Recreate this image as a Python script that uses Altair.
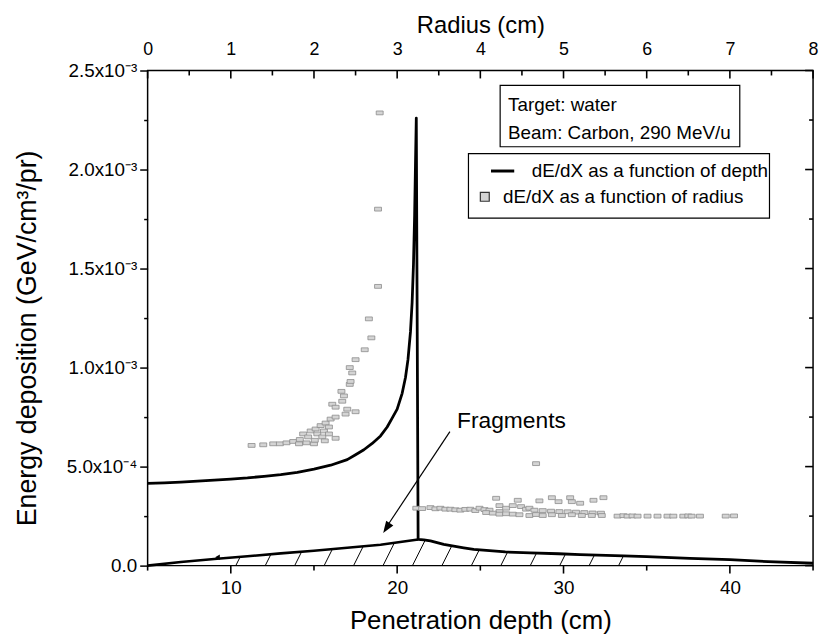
import altair as alt
import numpy as np
import pandas as pd

# ---------------- data (energy deposition in units of 1e-3 GeV/cm^3/pr) ----------------
depth_cm = [5, 6, 7, 8, 9, 10, 11, 12, 13, 14, 15, 16, 17, 17.5, 18, 18.5, 19, 19.4,
            19.7, 20.0, 20.3, 20.5, 20.65, 20.8, 20.9, 20.98, 21.05, 21.1, 21.15, 21.26,
            21.6, 22.0, 22.8, 24.0, 24.6, 26.5, 28.0, 29.7, 31.0, 33.6, 35.0, 37.6, 40.0,
            42.3, 45.0]
depth_dose = [0.415, 0.418, 0.422, 0.427, 0.432, 0.437, 0.443, 0.451, 0.46, 0.471, 0.487,
              0.507, 0.535, 0.56, 0.585, 0.617, 0.655, 0.70, 0.745, 0.79, 0.87, 0.95, 1.04,
              1.18, 1.33, 1.52, 1.77, 2.02, 2.26, 0.132,
              0.13, 0.125, 0.107, 0.09, 0.082, 0.069, 0.064, 0.06, 0.056, 0.049, 0.045,
              0.037, 0.03, 0.02, 0.012]

frag_depth_cm = [5, 7, 9, 11, 13, 15, 17, 19, 21.26]
frag_dose = [0.0, 0.018, 0.033, 0.047, 0.062, 0.075, 0.09, 0.105, 0.132]

radius_cm = [1.25, 1.39, 1.51, 1.59, 1.67, 1.75, 1.82, 1.83, 1.87, 1.91, 1.93, 1.96, 2.00,
             2.01, 2.02, 2.04, 2.08, 2.10, 2.12, 2.13, 2.14, 2.18, 2.18, 2.20, 2.22, 2.26,
             2.26, 2.26, 2.33, 2.34, 2.36, 2.38, 2.40, 2.43, 2.44, 2.46, 2.50, 2.43, 2.50,
             2.61, 2.69, 2.66, 2.77, 2.77, 2.79,
             3.23, 3.30, 3.40, 3.46, 3.52, 3.58, 3.64, 3.70, 3.76, 3.82, 3.88, 3.94, 3.99,
             4.05, 4.11, 4.19, 4.23, 4.23, 4.31, 4.39, 4.45, 4.49, 4.55, 4.59, 4.67, 4.71,
             4.86, 4.94, 5.08, 5.10, 5.20, 5.36, 5.48,
             4.65, 4.75, 4.85, 4.95, 5.05, 5.15, 5.25, 5.35, 5.45,
             4.07, 4.15, 4.23, 4.31, 4.39, 4.47, 4.59, 4.67, 4.75, 4.86, 4.98, 5.10, 5.22,
             5.34, 5.46, 5.65, 5.72, 5.77, 5.83, 5.89, 6.01, 6.13, 6.25, 6.32, 6.44, 6.50,
             6.54, 6.64, 6.95, 7.05]
radius_dose = [0.607, 0.610, 0.615, 0.615, 0.620, 0.627, 0.615, 0.637, 0.665, 0.620, 0.650,
               0.680, 0.615, 0.633, 0.690, 0.665, 0.707, 0.650, 0.680, 0.630, 0.720, 0.665,
               0.700, 0.740, 0.815, 0.750, 0.800, 0.643, 0.880, 0.830, 0.857, 0.765, 0.790,
               0.915, 0.930, 0.973, 0.777, 1.00, 1.04, 1.09, 1.15, 1.246, 1.41, 1.80, 2.286,
               0.290, 0.288, 0.293, 0.287, 0.290, 0.285, 0.285, 0.282, 0.280, 0.284, 0.285,
               0.278, 0.290, 0.283, 0.280, 0.340, 0.303, 0.273, 0.290, 0.303, 0.330, 0.298,
               0.285, 0.290, 0.515, 0.327, 0.343, 0.323, 0.343, 0.323, 0.315, 0.330, 0.343,
               0.280, 0.278, 0.275, 0.273, 0.272, 0.270, 0.268, 0.266, 0.265,
               0.268, 0.265, 0.260, 0.262, 0.260, 0.257, 0.253, 0.258, 0.253, 0.257, 0.253,
               0.257, 0.253, 0.253, 0.253, 0.250, 0.252, 0.250, 0.251, 0.250, 0.250, 0.250,
               0.250, 0.250, 0.250, 0.251, 0.250, 0.250, 0.250, 0.251]

depth_labels = [10, 20, 30, 40]
depth_minor = [5, 15, 25, 35, 45]
depth_top_major = [5, 10, 15, 20, 25, 30, 35, 40, 45]      # radius 0..8 cm
depth_top_minor = [7.5, 12.5, 17.5, 22.5, 27.5, 32.5, 37.5, 42.5]
radius_ticks = [0, 1, 2, 3, 4, 5, 6, 7, 8]
y_major = [0, 0.0005, 0.001, 0.0015, 0.002, 0.0025]
y_minor = [0.00025, 0.00075, 0.00125, 0.00175, 0.00225]

SERIES_DEPTH = "dE/dX as a function of depth"
SERIES_RADIUS = "dE/dX as a function of radius"
UNIT = 1e-3
W, H = 672, 500
X_DOM = [5, 45]
Y_DOM = [0, 0.0025]
FONT = "Liberation Sans"
TICK_COLOR = "black"

df_depth = pd.DataFrame({"depth": depth_cm, "dose": [v * UNIT for v in depth_dose]})
df_depth["series"] = SERIES_DEPTH
df_frag = pd.DataFrame({"depth": frag_depth_cm, "dose": [v * UNIT for v in frag_dose]})
df_rad = pd.DataFrame({"radius": radius_cm, "dose": [v * UNIT for v in radius_dose]})
df_rad["series"] = SERIES_RADIUS

px_per_depth = W / (X_DOM[1] - X_DOM[0])
px_per_dose = H / (Y_DOM[1] - Y_DOM[0])

# hatching under the fragment contribution, derived from the fragment envelope
env_d = np.array(frag_depth_cm + [d for d in depth_cm if d > frag_depth_cm[-1]])
env_v = np.array(frag_dose + [v for d, v in zip(depth_cm, depth_dose) if d > frag_depth_cm[-1]])
rows = []
for k in range(14):
    d0 = 10.3 + 1.77 * k
    t = d0
    for _ in range(8):
        h = float(np.interp(t, env_d, env_v)) * UNIT
        t = d0 + (h * px_per_dose / 2.0) / px_per_depth
    rows.append({"x0": d0, "x1": t, "y0": 0.0, "y1": h})
df_hatch = pd.DataFrame(rows)


def xs():
    return alt.Scale(domain=X_DOM, nice=False, zero=False)


def ys():
    return alt.Scale(domain=Y_DOM, nice=False, zero=False)


y_label_expr = ("round(datum.value * 4000) % 2 !== 0 ? '' : datum.value === 0 ? '0.0' : "
                "datum.value < 0.00099 ? format(datum.value * 1e4, '.1f') + 'x10\u207b\u2074' : "
                "format(datum.value * 1e3, '.1f') + 'x10\u207b\u00b3'")

left_axis = alt.Axis(
    orient="left", values=sorted(y_major + y_minor), labelExpr=y_label_expr,
    tickSize={"condition": {"test": "round(datum.value * 4000) % 2 === 0", "value": 8}, "value": 4},
    labelPadding=3, labelOverlap=False, labelFontSize=19,
    title="Energy deposition (GeV/cm\u00b3/pr)", titleFontSize=27, titleAngle=270,
    titleX=-121, titleY=270, titleAlign="center", titleBaseline="middle")

bottom_axis = alt.Axis(
    orient="bottom", values=depth_labels, ticks=False, tickSize=0, labelPadding=13,
    labelOverlap=False, labelFlush=False, labelFontSize=19,
    title="Penetration depth (cm)", titleFontSize=26, titleX=W / 2, titleY=56,
    titleAlign="center", titleBaseline="middle")

top_label_axis = alt.Axis(
    orient="top", values=radius_ticks, ticks=False, tickSize=0, labelPadding=12,
    labelOverlap=False, labelFlush=False, labelFontSize=18, format="d",
    title="Radius (cm)", titleFontSize=24, titleX=W / 2, titleY=-38,
    titleAlign="center", titleBaseline="alphabetic")

legend_line = alt.Legend(title=None, orient="none", legendX=345, legendY=88,
                         symbolType="stroke", symbolSize=550, symbolStrokeWidth=3,
                         symbolStrokeColor="black", labelFontSize=19, labelOffset=16,
                         labelLimit=600, labelColor="black", padding=0)
legend_sq = alt.Legend(title=None, orient="none", legendX=331, legendY=118,
                       symbolType="square", symbolSize=81, symbolStrokeColor="#333333",
                       symbolStrokeWidth=1.2, symbolFillColor="#d4d4d4", labelFontSize=19,
                       labelOffset=9, labelLimit=600, labelColor="black", padding=0)

RECT_SHAPE = "M-1,-0.55H1V0.55H-1Z"
ARROW_SHAPE = "M0,0L-0.36,1L0.36,1Z"


def x_ticks(values, y_at, length_px):
    """Vertical tick segments at depth positions; length given in pixels (positive = up)."""
    dy = length_px / px_per_dose
    df = pd.DataFrame({"v": values, "y0": [y_at] * len(values),
                       "y1": [y_at + dy] * len(values)})
    return alt.Chart(df).mark_rule(strokeWidth=1.6, color=TICK_COLOR).encode(
        x=alt.X("v:Q", scale=xs(), axis=None),
        y=alt.Y("y0:Q", scale=ys(), axis=None), y2="y1:Q")


def y_ticks(values, x_at, length_px):
    """Horizontal tick segments at dose positions; length in pixels (positive = right)."""
    dx = length_px / px_per_depth
    df = pd.DataFrame({"v": values, "x0": [x_at] * len(values),
                       "x1": [x_at + dx] * len(values)})
    return alt.Chart(df).mark_rule(strokeWidth=1.6, color=TICK_COLOR).encode(
        y=alt.Y("v:Q", scale=ys(), axis=None),
        x=alt.X("x0:Q", scale=xs(), axis=None), x2="x1:Q")


line_depth = alt.Chart(df_depth).mark_line(strokeWidth=2.8, strokeJoin="round").encode(
    x=alt.X("depth:Q", scale=xs(), axis=bottom_axis),
    y=alt.Y("dose:Q", scale=ys(), axis=left_axis),
    color=alt.Color("series:N", scale=alt.Scale(domain=[SERIES_DEPTH], range=["black"]),
                    legend=legend_line),
)

line_frag = alt.Chart(df_frag).mark_line(strokeWidth=2.6, color="black").encode(
    x=alt.X("depth:Q", scale=xs(), axis=None),
    y=alt.Y("dose:Q", scale=ys(), axis=None),
)

hatch = alt.Chart(df_hatch).mark_rule(strokeWidth=1, color="black").encode(
    x=alt.X("x0:Q", scale=xs(), axis=None),
    x2="x1:Q",
    y=alt.Y("y0:Q", scale=ys(), axis=None),
    y2="y1:Q",
)

scatter = alt.Chart(df_rad).mark_point(filled=True, shape=RECT_SHAPE, size=49,
                                       stroke="#8c8c8c", strokeWidth=0.8, opacity=1).encode(
    x=alt.X("radius:Q", scale=alt.Scale(domain=[0, 8], nice=False, zero=False),
            axis=top_label_axis),
    y=alt.Y("dose:Q", scale=ys(), axis=None),
    fill=alt.Fill("series:N", scale=alt.Scale(domain=[SERIES_RADIUS], range=["#d4d4d4"]),
                  legend=legend_sq),
)

one = pd.DataFrame({"k": [0]})
legend_box = alt.Chart(one).mark_rect(fillOpacity=0, stroke="black", strokeWidth=1.2).encode(
    x=alt.value(324), x2=alt.value(628), y=alt.value(84), y2=alt.value(149))
info_box = alt.Chart(one).mark_rect(fillOpacity=0, stroke="black", strokeWidth=1.2).encode(
    x=alt.value(356), x2=alt.value(598), y=alt.value(15), y2=alt.value(77))
info_t1 = alt.Chart(one).mark_text(align="left", baseline="middle", fontSize=19,
                                   color="black").encode(
    x=alt.value(364), y=alt.value(35), text=alt.value("Target: water"))
info_t2 = alt.Chart(one).mark_text(align="left", baseline="middle", fontSize=19,
                                   color="black").encode(
    x=alt.value(364), y=alt.value(63), text=alt.value("Beam: Carbon, 290 MeV/u"))

frag_label = alt.Chart(pd.DataFrame({"x": [23.6], "y": [0.73e-3], "t": ["Fragments"]})).mark_text(
    align="left", baseline="middle", fontSize=23, color="black").encode(
    x=alt.X("x:Q", scale=xs(), axis=None), y=alt.Y("y:Q", scale=ys(), axis=None), text="t:N")

arrow_line = alt.Chart(pd.DataFrame({"x": [23.17], "x2": [19.4], "y": [0.677e-3],
                                     "y2": [0.2e-3]})).mark_rule(
    strokeWidth=1.2, color="black").encode(
    x=alt.X("x:Q", scale=xs(), axis=None), x2="x2:Q",
    y=alt.Y("y:Q", scale=ys(), axis=None), y2="y2:Q")

arrow_head = alt.Chart(pd.DataFrame({"x": [19.16], "y": [0.165e-3]})).mark_point(
    shape=ARROW_SHAPE, size=576, filled=True, color="black", angle=213.5, opacity=1).encode(
    x=alt.X("x:Q", scale=xs(), axis=None), y=alt.Y("y:Q", scale=ys(), axis=None))

small_tri = alt.Chart(pd.DataFrame({"x": [9.2], "y": [0.042e-3]})).mark_point(
    shape="triangle-left", size=30, filled=True, color="black", opacity=1).encode(
    x=alt.X("x:Q", scale=xs(), axis=None), y=alt.Y("y:Q", scale=ys(), axis=None))

tick_layers = [
    x_ticks(depth_labels, Y_DOM[0], -8),        # bottom, outward
    x_ticks(depth_minor, Y_DOM[0], -5),
    x_ticks(depth_top_major, Y_DOM[1], -8),     # top, inward
    x_ticks(depth_top_minor, Y_DOM[1], -5),
    y_ticks(y_major, X_DOM[1], -8),             # right, inward
    y_ticks(y_minor, X_DOM[1], -4),
]

chart = alt.layer(
    hatch, line_frag, line_depth, scatter, *tick_layers, legend_box, info_box, info_t1,
    info_t2, frag_label, arrow_line, arrow_head, small_tri,
).resolve_scale(x="independent").resolve_axis(x="independent", y="independent").properties(
    width=W, height=H,
    autosize=alt.AutoSizeParams(type="none"),
    padding={"left": 141, "top": 60, "right": 6, "bottom": 74},
).configure(font=FONT).configure_axis(
    labelColor="black", titleColor="black", tickColor="black", tickWidth=1.5,
    titleFontWeight="normal", grid=False, domain=False,
).configure_view(stroke="black", strokeWidth=1.5).configure_legend(labelColor="black")

chart.save("out.html", embed_options={"renderer": "svg", "actions": False})
